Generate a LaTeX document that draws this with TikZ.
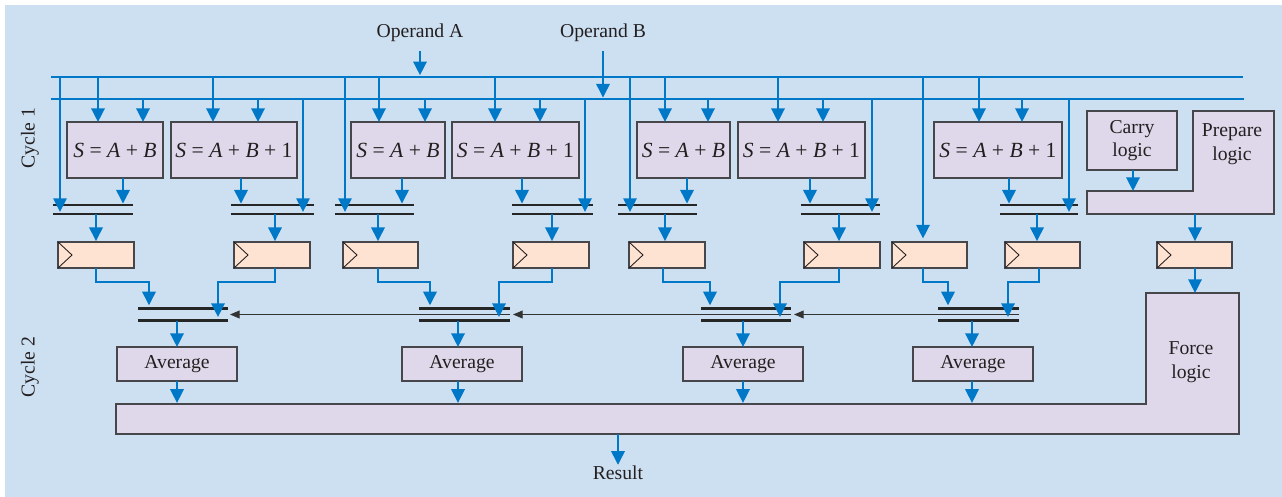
\documentclass[tikz,border=0pt]{standalone}
\usepackage{fontspec}
\setmainfont{Liberation Serif}
\usetikzlibrary{arrows.meta,calc}
\definecolor{bgblue}{RGB}{205,224,242}
\definecolor{lineblue}{RGB}{0,120,200}
\definecolor{lav}{RGB}{223,216,234}
\definecolor{peach}{RGB}{255,227,210}
\definecolor{edgegray}{RGB}{70,70,75}
\definecolor{ink}{RGB}{35,31,32}
\newcommand\SumAB{\textit{S} = \textit{A} + \textit{B}}
\newcommand\SumABone{\textit{S} = \textit{A} + \textit{B} + 1}
\begin{document}
\begin{tikzpicture}[x=0.02cm,y=-0.02cm,
  font=\fontsize{11.2}{13}\selectfont, text=ink,
  wd/.style={minimum width={#1*0.02cm}},
  ht/.style={minimum height={#1*0.02cm}},
  bline/.style={draw=lineblue, line width=1.3pt},
  barrow/.style={draw=lineblue, line width=1.3pt, -{Triangle[length=7.8pt,width=7.6pt]}},
  opbox/.style={draw=edgegray, fill=lav, line width=0.75pt, inner sep=0pt, outer sep=0pt, anchor=north west},
  sumbox/.style={opbox, font=\fontsize{12.3}{14}\selectfont, ht=56},
  regbox/.style={draw=edgegray, fill=peach, line width=0.75pt, inner sep=0pt, outer sep=0pt, anchor=north west, wd=76, ht=26},
  muxbox/.style={inner sep=0pt, outer sep=0pt, anchor=north west, ht=9},
  muxbox2/.style={inner sep=0pt, outer sep=0pt, anchor=north west, ht=12},
  muxline/.style={draw=black!85, line width=1.2pt},
  carryarrow/.style={draw=black!80, line width=0.6pt, -{Triangle[length=5.5pt,width=4.5pt]}},
  lbl/.style={align=center, inner sep=0pt}
]
\useasboundingbox (0,0) rectangle (1282,497);
\fill[white] (0,0) rectangle (1282,497);
\fill[bgblue] (5,5) rectangle (1282,497);

% helper coordinates
\coordinate (busA) at (0,77);
\coordinate (busB) at (0,99);
\coordinate (elb) at (0,282);
\coordinate (bartop) at (0,404);
\coordinate (barbot) at (0,434);

% labels
\node[lbl] (opA) at (420,33) {Operand A};
\node[lbl] (opB) at (603,33) {Operand B};
\node[lbl, rotate=90] (cyc1) at (30,138) {Cycle 1};
\node[lbl, rotate=90] (cyc2) at (30,367) {Cycle 2};
\node[lbl] (res) at (618,473) {Result};

% adder boxes
\node[sumbox, wd=96]  (b1) at (67,122)  {\SumAB};
\node[sumbox, wd=126] (b2) at (171,122) {\SumABone};
\node[sumbox, wd=94]  (b3) at (351,122) {\SumAB};
\node[sumbox, wd=127] (b4) at (452,122) {\SumABone};
\node[sumbox, wd=93]  (b5) at (637,122) {\SumAB};
\node[sumbox, wd=127] (b6) at (738,122) {\SumABone};
\node[sumbox, wd=128] (b7) at (934,122) {\SumABone};

% carry logic and prepare logic
\node[opbox, wd=90, ht=59, align=center] (carry) at (1087,111) {Carry\\logic};
\draw[draw=edgegray, fill=lav, line width=0.75pt]
  (1087,191) -- (1193,191) -- (1193,111) -- (1274,111) -- (1274,214) -- (1087,214) -- cycle;
\node[lbl, text width=2cm] (prep) at (1232,144) {Prepare\\[1pt]logic};
\coordinate (prepbot) at (0,214);
\coordinate (prepbar) at (0,191);

% first level muxes
\node[muxbox, wd=80] (m1) at (53,205) {};
\node[muxbox, wd=83] (m2) at (231,205) {};
\node[muxbox, wd=79] (m3) at (335,205) {};
\node[muxbox, wd=81] (m4) at (512,205) {};
\node[muxbox, wd=79] (m5) at (618,205) {};
\node[muxbox, wd=79] (m6) at (801,205) {};
\node[muxbox, wd=78] (m8) at (1000,205) {};
\foreach \m in {m1,m2,m3,m4,m5,m6,m8}{
  \draw[muxline] (\m.north west) -- (\m.north east);
  \draw[muxline] (\m.south west) -- (\m.south east);
}

% registers
\node[regbox] (r1) at (58,242) {};
\node[regbox] (r2) at (234,242) {};
\node[regbox, wd=75] (r3) at (343,242) {};
\node[regbox] (r4) at (513,242) {};
\node[regbox] (r5) at (629,242) {};
\node[regbox] (r6) at (804,242) {};
\node[regbox, wd=75] (r7) at (892,242) {};
\node[regbox, wd=75] (r8) at (1005,242) {};
\node[regbox, wd=75] (r9) at (1157,242) {};
\foreach \r in {r1,r2,r3,r4,r5,r6,r7,r8,r9}{
  \draw[draw=ink, line width=0.5pt] (\r.north west) -- ($(\r.west)+(14,0)$) -- (\r.south west);
}

% second level muxes
\node[muxbox2, wd=90] (n1) at (138,308.5) {};
\node[muxbox2, wd=91] (n2) at (419,308.5) {};
\node[muxbox2, wd=90] (n3) at (701,308.5) {};
\node[muxbox2, wd=81] (n4) at (938,308.5) {};
\foreach \m in {n1,n2,n3,n4}{
  \draw[muxline] (\m.north west) -- (\m.north east);
  \draw[muxline] (\m.south west) -- (\m.south east);
}

% carry chain
\draw[carryarrow] (n4.east) -- ($(n3.east)+(3,0)$);
\draw[carryarrow] (n3.east) -- ($(n2.east)+(3,0)$);
\draw[carryarrow] (n2.east) -- ($(n1.east)+(2,0)$);

% average boxes
\node[opbox, wd=120, ht=34] (a1) at (117,347) {Average};
\node[opbox, wd=120, ht=34] (a2) at (402,347) {Average};
\node[opbox, wd=120, ht=34] (a3) at (683,347) {Average};
\node[opbox, wd=120, ht=34] (a4) at (913,347) {Average};

% result bar with force logic
\draw[draw=edgegray, fill=lav, line width=0.75pt]
  (116,404) -- (1146,404) -- (1146,293) -- (1239,293) -- (1239,434) -- (116,434) -- cycle;
\coordinate (forcetop) at (0,293);
\node[lbl] (force) at (1191,362) {Force\\[1pt]logic};

% buses
\draw[bline] (51,0 |- busA) -- (1243,0 |- busA);
\draw[bline] (51,0 |- busB) -- (1244,0 |- busB);

% operand inputs
\draw[barrow, shorten <=5pt, shorten >=1pt] (opA.south) -- (420,0 |- busA);
\draw[barrow, shorten <=5pt, shorten >=0.8pt] (opB.south) -- (603,0 |- busB);

% bus to adders
\foreach \x/\b in {98/b1,213/b2,379/b3,495/b4,665/b5,778/b6,979/b7}
  \draw[barrow] (\x,0 |- busA) -- (\x,0 |- \b.north);
\foreach \x/\b in {143/b1,258/b2,425/b3,540/b4,708/b5,823/b6,1022/b7}
  \draw[barrow] (\x,0 |- busB) -- (\x,0 |- \b.north);

% bypass lines to muxes
\foreach \x/\m in {60/m1,345/m3,630/m5}
  \draw[barrow, shorten >=-1.4pt] (\x,0 |- busA) -- (\x,0 |- \m.center);
\foreach \x/\m in {303/m2,585/m4,872/m6,1069/m8}
  \draw[barrow, shorten >=-1.4pt] (\x,0 |- busB) -- (\x,0 |- \m.center);
\draw[barrow, shorten >=2pt] (923,0 |- busA) -- (923,0 |- r7.north);

% adders to muxes
\foreach \x/\b/\m in {123/b1/m1,241/b2/m2,402/b3/m3,522/b4/m4,687/b5/m5,810/b6/m6,1009/b7/m8}
  \draw[barrow, shorten >=0.8pt] (\x,0 |- \b.south) -- (\x,0 |- \m.north);

% muxes to registers
\foreach \x/\m/\r in {96/m1/r1,275/m2/r2,378/m3/r3,552/m4/r4,665/m5/r5,839/m6/r6,1037/m8/r8}
  \draw[barrow, shorten >=0.5pt] (\x,0 |- \m.south) -- (\x,0 |- \r.north);

% carry logic / prepare / force
\draw[barrow] (1133,0 |- carry.south) -- (1133,0 |- prepbar);
\draw[barrow, shorten >=0.5pt] (1195,0 |- prepbot) -- (1195,0 |- r9.north);
\draw[barrow] (1195,0 |- r9.south) -- (1195,0 |- forcetop);

% registers to second-level muxes
\foreach \x/\r/\t/\n in {96/r1/149/n1,378/r3/430/n2,663/r5/710/n3,923/r7/948/n4}
  \draw[barrow, shorten >=1.8pt] (\x,0 |- \r.south) -- (\x,0 |- elb) -- (\t,0 |- elb) -- (\t,0 |- \n.north);
\foreach \x/\r/\t/\n in {275/r2/218/n1,552/r4/499/n2,839/r6/780/n3,1039/r8/1008/n4}
  \draw[barrow, shorten >=2pt] (\x,0 |- \r.south) -- (\x,0 |- elb) -- (\t,0 |- elb) -- (\t,0 |- \n.south);

% second-level muxes to averages, averages to result bar
\foreach \x/\n/\a in {177/n1/a1,458/n2/a2,743/n3/a3,972/n4/a4}{
  \draw[barrow] (\x,0 |- \n.south) -- (\x,0 |- \a.north);
  \draw[barrow, shorten >=0.6pt] (\x,0 |- \a.south) -- (\x,0 |- bartop);
}
\draw[barrow, shorten >=0.5pt] (618,0 |- barbot) -- (res.north);
\end{tikzpicture}
\end{document}
